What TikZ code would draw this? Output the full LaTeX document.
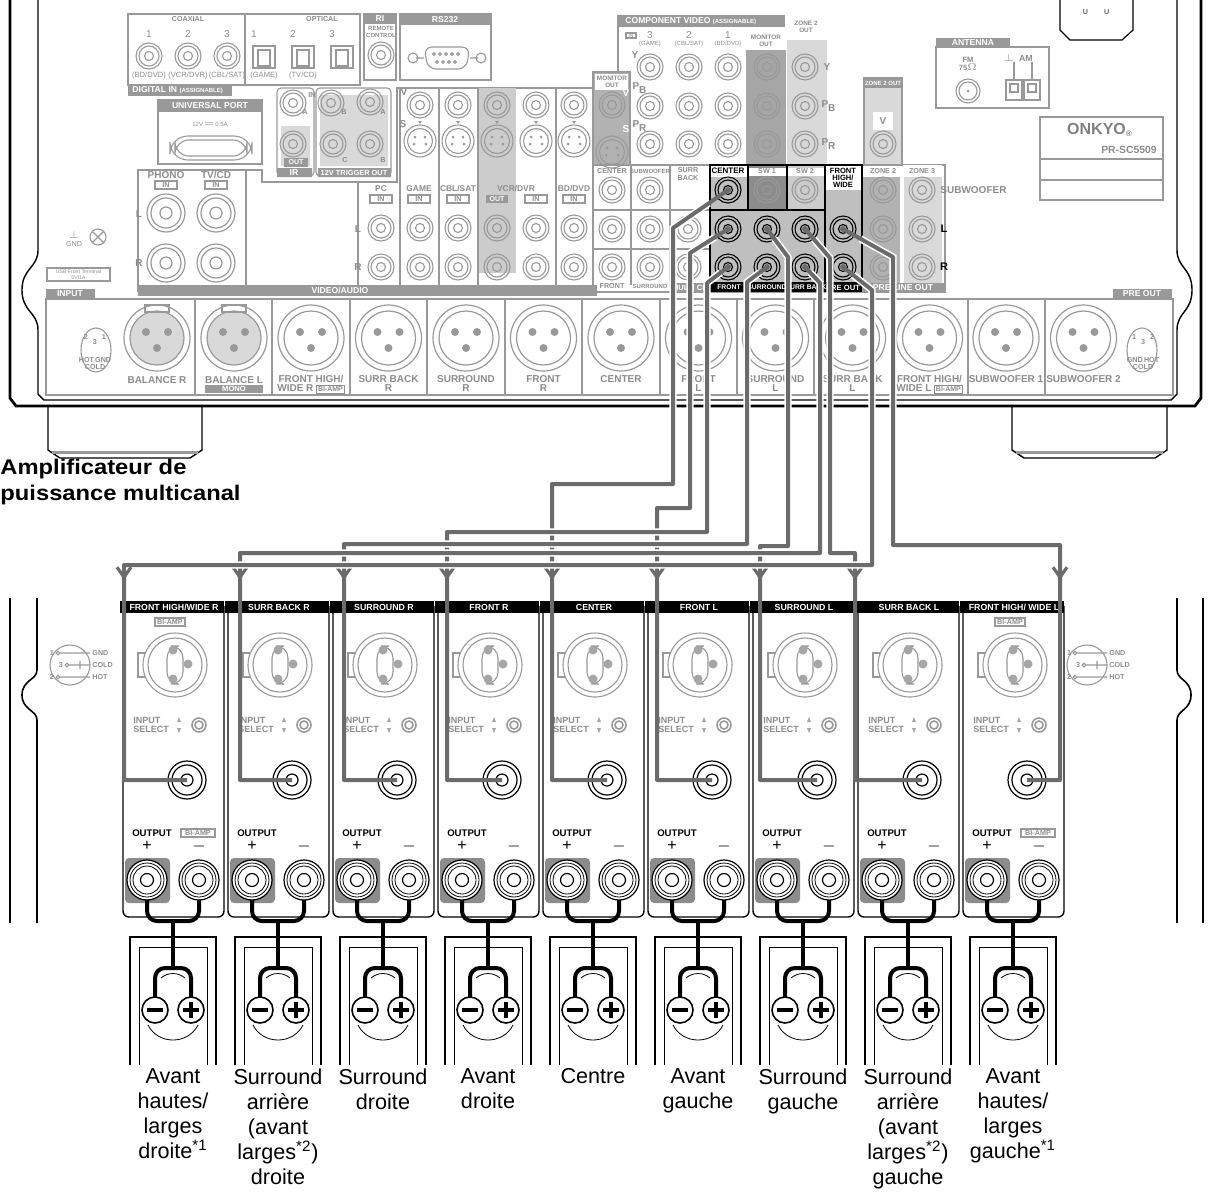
\documentclass[tikz,border=0pt]{standalone}
\usepackage{fontspec}
\setmainfont{Liberation Sans}
\usetikzlibrary{arrows.meta,calc}
\setlength\fboxsep{0.6pt}
\setlength\fboxrule{0.3pt}
\newcommand\rcaJ[3][black!40]{\draw[#1,line width=0.55pt] (#2,#3) circle (13) (#2,#3) circle (10) (#2,#3) circle (4.5);}
\newcommand\bigJ[3][black!40]{\draw[#1,line width=0.6pt] (#2,#3) circle (19) (#2,#3) circle (15) (#2,#3) circle (6);}
\newcommand\svJ[2]{\draw[black!40,line width=0.55pt] (#1,#2) circle (16) (#1,#2) circle (12.5); \fill[black!40] (#1-5,#2-4) circle (1.5) (#1+5,#2-4) circle (1.5) (#1-6,#2+3) circle (1.5) (#1+6,#2+3) circle (1.5);}
\newcommand\xlrJ[3]{\draw[black!40,line width=0.6pt,fill=#3] (#1,#2) circle (27); \draw[black!40,line width=0.6pt] (#1,#2) circle (33); \fill[black!40] (#1-11,#2-6) circle (4) (#1+11,#2-6) circle (4) (#1,#2+10) circle (4);}
\begin{document}
\begin{tikzpicture}[x=0.5pt,y=-0.5pt,
  pl/.style={draw=black!40,line width=0.55pt},
  tt/.style={font=\fontsize{3.6}{4}\selectfont\bfseries,text=black!45,inner sep=0,align=center},
  tw/.style={font=\fontsize{4.3}{4.5}\selectfont\bfseries,text=white,inner sep=0},
  tl/.style={font=\fontsize{5}{5.2}\selectfont\bfseries,text=black!45,inner sep=0,align=center},
  tb/.style={font=\fontsize{4}{4.3}\selectfont\bfseries,text=black,inner sep=0,align=center},
  hdr/.style={font=\fontsize{4.4}{4.5}\selectfont\bfseries,text=white,inner sep=0},
  cable/.style={draw=black!58,line width=2pt},
  casing/.style={draw=white,line width=3.6pt},
  spk/.style={draw=black,line width=2pt,rounded corners=5},
  lbl/.style={font=\fontsize{10.8}{12.5}\selectfont,align=center,inner sep=0,anchor=north}]
\useasboundingbox (0,0) rectangle (1209,1201);

% ===== receiver body =====
\draw[line width=1.4pt] (10,0)--(10,398)--(16,406)--(1195,406)--(1201,398)--(1201,0);
\draw[line width=0.7pt] (38,0)--(38,250) .. controls (38,268) and (22,268) .. (22,290) .. controls (22,312) and (38,312) .. (38,330)--(38,394)--(44,400)--(1171,400)--(1177,394)--(1177,330) .. controls (1177,312) and (1192,312) .. (1192,290) .. controls (1192,268) and (1177,268) .. (1177,250)--(1177,0);
\draw[line width=0.7pt] (48,406)--(48,450)--(60,458)--(190,458)--(202,450)--(202,406);
\draw[line width=0.7pt] (1012,406)--(1012,450)--(1024,458)--(1155,458)--(1167,450)--(1167,406);
\draw[pl,line width=1.5pt] (52,452)--(198,452) (1016,452)--(1163,452);
% plug
\draw[line width=0.6pt] (1060,0)--(1060,30)--(1070,40)--(1122,40)--(1133,30)--(1133,0);
\node[tt,text=black!60] (plug) at (1096,12) {U\hspace{8pt}U};

% digital in
\draw[pl] (128,14) rectangle (360,85) (245,14)--(245,85);
\node[tt] (coax) at (188,19) {COAXIAL};
\node[tt] (opt) at (322,19) {OPTICAL};
\foreach \x/\n/\t in {149/1/{(BD/DVD)},188/2/{(VCR/DVR)},227/3/{(CBL/SAT)}}{
  \node[tt,font=\fontsize{5}{5}\selectfont] (cn\n) at (\x,34) {\n};
  \rcaJ{\x}{56}
  \node[tt,font=\fontsize{3.8}{4}\selectfont] (cl\n) at (\x,76) {\t};}
\foreach \x/\n/\t in {264/1/{(GAME)},303/2/{(TV/CD)},342/3/{}}{
  \node[tt,font=\fontsize{5}{5}\selectfont] (on\n) at (\x-10,34) {\n};
  \draw[pl] (\x-11,46) rectangle (\x+11,68) (\x-6,50) rectangle (\x+6,66);
  \node[tt,font=\fontsize{3.8}{4}\selectfont] (ol\n) at (\x,76) {\t};}
\fill[black!40] (128,85) rectangle (232,96);
\node[tw,anchor=west] (dig) at (132,90.5) {DIGITAL IN \fontsize{3}{3}\selectfont(ASSIGNABLE)};
% RI
\draw[pl] (364,14) rectangle (396,80); \fill[black!40] (364,14) rectangle (396,24);
\node[tw] (ri) at (380,19) {RI};
\node[tt,font=\fontsize{3}{3.2}\selectfont\bfseries] (rc) at (381,32) {REMOTE\\CONTROL};
\rcaJ{381}{55}
% RS232
\draw[pl] (400,14) rectangle (491,80); \fill[black!40] (400,14) rectangle (491,25);
\node[tw] (rs) at (445,19.5) {RS232};
\draw[pl,rounded corners=4] (424,47)--(470,47)--(466,69)--(428,69)--cycle;
\draw[pl] (413,58) circle (5) (481,58) circle (5) (416,58)--(424,58) (470,58)--(478,58);
\foreach \x in {434,440,446,452,458}{\draw[pl] (\x,54) circle (1.3);}
\foreach \x in {437,443,449,455}{\draw[pl] (\x,62) circle (1.3);}
% universal port
\draw[pl] (158,100) rectangle (262,164); \fill[black!40] (158,100) rectangle (262,112);
\node[tw] (up) at (210,106) {UNIVERSAL PORT};
\node[tt,font=\fontsize{3}{3}\selectfont] (v12) at (210,124) {12V\,$=$\,0.5A};
\draw[pl,rounded corners=9] (170,136) rectangle (252,160);
\draw[pl,rounded corners=7] (175,140) rectangle (247,156);
% IR / trigger
\draw[pl,rounded corners=2] (277,88) rectangle (314,176);
\draw[pl,rounded corners=2] (316,88) rectangle (391,176);
\fill[black!15] (281,126) rectangle (310,166) (320,95) rectangle (388,166);
\node[tt] (irin) at (312,95) {IN};
\rcaJ{293}{103} \rcaJ{331}{103} \rcaJ{370}{102} \rcaJ{293}{144} \rcaJ{333}{144} \rcaJ{370}{144}
\node[tt] (ia) at (305,112) {A}; \node[tt] (ib) at (344,112) {B}; \node[tt] (ta) at (383,112) {A};
\node[tt] (tc) at (345,160) {C}; \node[tt] (tb) at (383,160) {B};
\fill[black!40] (284,158) rectangle (308,167); \node[tw,font=\fontsize{3.5}{3.5}\selectfont\bfseries] (iro) at (296,162.5) {OUT};
\fill[black!40] (277,168) rectangle (312,177) (318,168) rectangle (391,177);
\node[tw] (irl) at (294,172.5) {IR}; \node[tw,font=\fontsize{3.7}{3.7}\selectfont\bfseries] (trl) at (354,172.5) {12V TRIGGER OUT};
% video/audio area
\draw[pl] (138,292)--(138,170)--(262,170)--(262,182)--(397,182)--(397,88)--(597,88);
\draw[pl] (246,170)--(246,285) (358,182)--(358,285) (400,88)--(400,285) (439,88)--(439,285) (478,88)--(478,285) (556,88)--(556,285);
\fill[black!20] (479,88) rectangle (516,273);
\node[tl] (vv) at (404,92) {V}; \node[tl] (ss) at (403,124) {S};
\foreach \x in {420,458,497,536,574}{\rcaJ{\x}{105} \svJ{\x}{141} \fill[black!40] (\x-2,121)--(\x+2,121)--(\x,124)--cycle;}
\foreach \x/\t in {381/PC,419/GAME,458/{CBL/SAT},574/{BD/DVD}}{\node[tl,font=\fontsize{4.2}{4.4}\selectfont\bfseries] (va\x) at (\x,189) {\t};}
\node[tl,font=\fontsize{4.2}{4.4}\selectfont\bfseries] (vcr) at (516,189) {VCR/DVR};
\foreach \x in {381,419,458,536,574}{\draw[pl] (\x-11,195) rectangle (\x+11,203); \node[tt] (in\x) at (\x,199) {IN};}
\fill[black!40] (486,195) rectangle (508,203); \node[tw,font=\fontsize{3.5}{3.5}\selectfont\bfseries] (vout) at (497,199) {OUT};
\foreach \x in {381,420,458,497,536,574}{\rcaJ{\x}{228} \rcaJ{\x}{267}}
\node[tl] (ll) at (358,229) {L}; \node[tl] (rr) at (358,267) {R};
\node[tl] (phono) at (166,175) {PHONO}; \node[tl] (tvcd) at (216,175) {TV/CD};
\foreach \x in {166,216}{\draw[pl] (\x-11,181) rectangle (\x+11,189); \node[tt] (pin\x) at (\x,185) {IN}; \bigJ{\x}{213} \bigJ{\x}{263}}
\node[tl] (pl1) at (139,214) {L}; \node[tl] (pr1) at (139,263) {R};
\fill[black!40] (138,285) rectangle (597,296);
\node[tw] (va) at (340,290.5) {VIDEO/AUDIO};
% ground, usb
\draw[pl] (98,237) circle (8) (93,232)--(103,242) (93,242)--(103,232);
\node[tt,font=\fontsize{3.6}{4}\selectfont] (gnd) at (74,239) {$\perp$\\GND};
\draw[pl] (47,268) rectangle (110,281);
\node[tt,font=\fontsize{2.6}{3}\selectfont] (usb) at (78.5,274.5) {USB Front Terminal\\5V/1A};

% component video
\draw[pl] (618,15)--(618,165) (593,165)--(945,165);
\fill[black!40] (618,15) rectangle (785,27);
\node[tw,anchor=west] (cv) at (625,21) {COMPONENT VIDEO \fontsize{3}{3}\selectfont(ASSIGNABLE)};
\fill[black!35] (746,33) rectangle (786,165);
\fill[white] (746,33) rectangle (786,50);
\fill[black!15] (787,15) rectangle (827,165);
\fill[white] (787,15) rectangle (827,40);
\node[tt,font=\fontsize{3.2}{3.4}\selectfont\bfseries] (mo) at (766,41) {MONITOR\\OUT};
\node[tt,font=\fontsize{3.2}{3.4}\selectfont\bfseries] (z2o) at (806,27) {ZONE 2\\OUT};
\draw[pl] (626,33) rectangle (636,38); \node[tt,font=\fontsize{2.5}{3}\selectfont] (cin) at (631,35.5) {IN};
\foreach \x/\n/\t in {650/3/{(GAME)},689/2/{(CBL/SAT)},728/1/{(BD/DVD)}}{
 \node[tt,font=\fontsize{5}{5}\selectfont] (cvn\n) at (\x,35) {\n};
 \node[tt,font=\fontsize{3}{3}\selectfont] (cvl\n) at (\x,44) {\t};}
\foreach \x in {650,689,728,767,805}{\rcaJ{\x}{67}\rcaJ{\x}{106}\rcaJ{\x}{144}}
\node[tl] (y1) at (635,55) {Y}; \node[tl] (pb1) at (640,88) {P\textsubscript{B}}; \node[tl] (pr1b) at (640,126) {P\textsubscript{R}};
\node[tl] (y2) at (827,67) {Y}; \node[tl] (pb2) at (829,106) {P\textsubscript{B}}; \node[tl] (pr2) at (829,144) {P\textsubscript{R}};
% monitor out
\fill[black!30] (593,72) rectangle (630,165); \draw[pl] (593,72) rectangle (630,165);
\fill[white] (595,74) rectangle (628,90);
\node[tt,font=\fontsize{3.2}{3.4}\selectfont\bfseries] (mo2) at (612,82) {MONITOR\\OUT};
\rcaJ{612}{105} \svJ{612}{152}
\node[tl,text=white] (mv) at (626,93) {V}; \node[tl,text=white] (ms) at (626,129) {S};
% multichannel
\draw[pl] (593,165) rectangle (945,292) (631,165)--(631,285) (670,165)--(670,285) (593,210)--(710,210) (593,249)--(710,249);
\fill[black!30] (862,165) rectangle (900,285); \fill[black!15] (904,165) rectangle (942,285);
\fill[white] (862,165) rectangle (942,177);
\node[tt] (mcc) at (612,171) {CENTER}; \node[tt,font=\fontsize{3}{3}\selectfont\bfseries] (mcs) at (650,171) {SUBWOOFER}; \node[tt] (mcb) at (688,174) {SURR\\BACK};
\foreach \x in {612,650}{\rcaJ{\x}{190}\rcaJ{\x}{229}\rcaJ{\x}{267}}
\rcaJ{688}{229}\rcaJ{688}{267}
\node[tt] (z2) at (883,171) {ZONE 2}; \node[tt] (z3) at (922,171) {ZONE 3};
\foreach \x in {883,922}{\rcaJ{\x}{190}\rcaJ{\x}{229}\rcaJ{\x}{267}}
\node[tl,anchor=west,font=\fontsize{5}{5}\selectfont\bfseries] (subw) at (940,190) {SUBWOOFER};
\node[tb,font=\fontsize{5.5}{5.5}\selectfont\bfseries] (lL) at (944,229) {L};
\node[tb,font=\fontsize{5.5}{5.5}\selectfont\bfseries] (lR) at (944,267) {R};
% pre out block
\fill[black!25] (710,177) rectangle (748,210); \fill[black!45] (748,165) rectangle (787,210); \fill[black!20] (787,165) rectangle (825,210);
\fill[black!25] (710,210) rectangle (825,283) (825,190) rectangle (862,283);
\fill[white] (825,165) rectangle (862,190);
\fill[white] (748,168) rectangle (787,176); \fill[white] (787,168) rectangle (825,176);
\draw[line width=0.8pt] (710,165) rectangle (862,283) (710,210)--(825,210) (748,165)--(748,210) (787,165)--(787,210) (825,165)--(825,283);
\node[tb] (pc) at (728,171) {CENTER}; \node[tt] (sw1) at (767,171) {SW 1}; \node[tt] (sw2) at (805,171) {SW 2};
\node[tb,font=\fontsize{3.8}{3.6}\selectfont\bfseries] (pw) at (843,178) {FRONT\\HIGH/\\WIDE};
\rcaJ[black,line width=0.8pt]{728}{190} \rcaJ{767}{190} \rcaJ{805}{190}
\foreach \x in {728,767,805,843}{\rcaJ[black,line width=0.8pt]{\x}{229} \rcaJ[black,line width=0.8pt]{\x}{267}}
\fill[black] (710,283) rectangle (862,292);
\fill[black!40] (670,283) rectangle (710,292) (862,283) rectangle (945,292);
\node[tw,font=\fontsize{3.4}{3.4}\selectfont\bfseries] (bfr) at (729,287.5) {FRONT};
\node[tw,font=\fontsize{3.4}{3.4}\selectfont\bfseries] (bsu) at (767,287.5) {SURROUND};
\node[tw,font=\fontsize{3.4}{3.4}\selectfont\bfseries] (bsb) at (806,287.5) {SURR BACK};
\node[tw,font=\fontsize{3.8}{3.8}\selectfont\bfseries] (bpo) at (843,287.5) {PRE OUT};
\node[tw,font=\fontsize{3.8}{3.8}\selectfont\bfseries] (bmc) at (690,287.5) {MULTI CH};
\node[tw] (bpl) at (903,287.5) {PRE LINE OUT};
\node[tt] (mcf2) at (612,286) {FRONT}; \node[tt,font=\fontsize{3}{3}\selectfont\bfseries] (mcsu2) at (650,286) {SURROUND};
% zone 2 out V
\fill[black!15] (864,78) rectangle (902,165); \draw[pl] (864,78) rectangle (902,165);
\fill[black!40] (864,78) rectangle (902,88); \node[tw,font=\fontsize{3}{3}\selectfont\bfseries] (z2ov) at (883,83) {ZONE 2 OUT};
\fill[white] (873,112) rectangle (893,130); \node[tl] (zv) at (883,121) {V};
\rcaJ{883}{144}
% antenna
\draw[pl] (936,47) rectangle (1049,108); \fill[black!40] (936,38) rectangle (1010,47);
\node[tw] (ant) at (973,42.5) {ANTENNA};
\node[tt,font=\fontsize{3.8}{4}\selectfont\bfseries] (fm) at (968,64) {FM\\75$\Omega$};
\draw[pl] (968,91) circle (12) (968,91) circle (9); \fill[black!40] (968,91) circle (1.5);
\node[tt,font=\fontsize{4.4}{4.4}\selectfont\bfseries] (am) at (1018,58) {$\perp$\ \ AM};
\draw[pl] (1006,80) rectangle (1022,100) (1024,80) rectangle (1040,100) (1010,84) rectangle (1018,92) (1028,84) rectangle (1036,92) (1014,62)--(1014,80) (1032,62)--(1032,80);
% onkyo
\draw[pl,line width=0.8pt] (1040,117) rectangle (1163,200) (1040,159)--(1163,159) (1040,180)--(1163,180);
\node[font=\fontsize{8}{8}\selectfont\bfseries\rmfamily,text=black!50,inner sep=0] (onk) at (1100,130) {ONKYO\textsubscript{\fontsize{4}{4}\selectfont\textregistered}};
\node[tl,font=\fontsize{5.2}{5.2}\selectfont\bfseries] (model) at (1129,150) {PR-SC5509};

% XLR row
\draw[pl] (46,299) rectangle (1173,395);
\foreach \x in {195,272,350,427,505,582,660,737,814,891,968,1045}{\draw[pl] (\x,299)--(\x,395);}
\fill[black!40] (46,289) rectangle (95,299); \node[tw] (inp) at (70,294) {INPUT};
\fill[black!40] (1113,289) rectangle (1172,299); \node[tw] (pot) at (1142,294) {PRE OUT};
\xlrJ{157}{338}{black!15} \xlrJ{234}{338}{black!15}
\draw[pl] (145,305) rectangle (169,312) (222,305) rectangle (246,312);
\foreach \x/\t in {311/{FRONT HIGH/\\WIDE R \fbox{\fontsize{3.5}{3.5}\selectfont BI-AMP}},388.5/{SURR BACK\\R},466/{SURROUND\\R},543.5/{FRONT\\R},621/{CENTER\\\ },698.5/{FRONT\\L},775.5/{SURROUND\\L},852.5/{SURR BACK\\L},929.5/{FRONT HIGH/\\WIDE L \fbox{\fontsize{3.5}{3.5}\selectfont BI-AMP}},1006/{SUBWOOFER 1\\\ },1083.5/{SUBWOOFER 2\\\ }}{
  \xlrJ{\x}{338}{white}
  \node[tl,font=\fontsize{5}{4.6}\selectfont\bfseries,anchor=north] (x\x) at (\x,375) {\t};}
\node[tl,font=\fontsize{5}{4.6}\selectfont\bfseries,anchor=north] (balr) at (157,376) {BALANCE R};
\node[tl,font=\fontsize{5}{4.6}\selectfont\bfseries,anchor=north] (ball) at (234,376) {BALANCE L};
\fill[black!40] (205,385) rectangle (263,393); \node[tw,font=\fontsize{3.8}{3.8}\selectfont\bfseries] (mono) at (234,389) {MONO};
\draw[pl] (96,350) ellipse (15 and 22);
\node[tt,font=\fontsize{3.6}{3.8}\selectfont\bfseries] (pinL) at (95,352) {2\hspace{7pt}1\\[-1pt]3\\[5pt]HOT\,GND\\COLD};
\draw[pl] (1142,350) ellipse (15 and 22);
\node[tt,font=\fontsize{3.6}{3.8}\selectfont\bfseries] (pinR) at (1143,352) {1\hspace{7pt}2\\[-1pt]3\\[5pt]GND\,HOT\\COLD};

% ===== amplifier =====
\node[font=\fontsize{10.6}{13}\selectfont\bfseries,align=left,anchor=north west,inner sep=0,xscale=1.12,transform shape] (title) at (0,459) {Amplificateur de\\puissance multicanal};
\draw[line width=0.8pt] (10,598)--(10,923);
\draw[line width=0.8pt] (37,598)--(37,670) .. controls (37,680) and (22,680) .. (22,695) .. controls (22,710) and (37,710) .. (37,720)--(37,923);
\draw[line width=0.8pt] (1203,598)--(1203,923);
\draw[line width=0.8pt] (1177,598)--(1177,670) .. controls (1177,680) and (1191,680) .. (1191,695) .. controls (1191,710) and (1177,710) .. (1177,720)--(1177,923);
\foreach \cx in {70,1087}{
 \draw[pl] (\cx,665) circle (20);
 \draw[pl] (\cx-12,653) circle (1.8) (\cx-10,653)--(\cx+20,653);
 \draw[pl] (\cx-3,665) circle (1.8) (\cx-1,665)--(\cx+20,665) (\cx+10,661)--(\cx+10,669);
 \draw[pl] (\cx-12,677) circle (1.8) (\cx-10,677)--(\cx+20,677);
 \node[tt,font=\fontsize{3.6}{3.6}\selectfont\bfseries,anchor=west] (g\cx) at (\cx+22,653) {GND};
 \node[tt,font=\fontsize{3.6}{3.6}\selectfont\bfseries,anchor=west] (c\cx) at (\cx+22,665) {COLD};
 \node[tt,font=\fontsize{3.6}{3.6}\selectfont\bfseries,anchor=west] (h\cx) at (\cx+22,677) {HOT};
 \node[tt,font=\fontsize{3.6}{3.6}\selectfont\bfseries] (n1\cx) at (\cx-18,653) {1};
 \node[tt,font=\fontsize{3.6}{3.6}\selectfont\bfseries] (n3\cx) at (\cx-9,665) {3};
 \node[tt,font=\fontsize{3.6}{3.6}\selectfont\bfseries] (n2\cx) at (\cx-18,677) {2};}

\foreach \k/\nm in {0/{FRONT HIGH/WIDE R},1/{SURR BACK R},2/{SURROUND R},3/{FRONT R},4/{CENTER},5/{FRONT L},6/{SURROUND L},7/{SURR BACK L},8/{FRONT HIGH/ WIDE L}}{
 \pgfmathsetmacro\L{123+105*\k}
 \draw[line width=0.7pt,rounded corners=3] (\L,606)--(\L,917)--(\L+101,917)--(\L+101,606);
 \fill[black] (\L-3,601) rectangle (\L+101,613);
 \node[hdr] (h\k) at (\L+51,607.5) {\nm};
 \draw[pl] (\L+15,653) rectangle (\L+29,677);
 \draw[pl,fill=white] (\L+52,665) circle (32) (\L+52,665) circle (27);
 \draw[pl,rounded corners=6] (\L+44,646) rectangle (\L+60,684);
 \fill[black!35] (\L+50,650) circle (4.5) (\L+65,664) circle (4.5) (\L+50,679) circle (4.5);
 \node[tt,font=\fontsize{4.5}{4.5}\selectfont\bfseries,align=left] (is\k) at (\L+28,725) {INPUT\\SELECT};
 \fill[black!35] (\L+56,717)--(\L+58,722)--(\L+54,722)--cycle (\L+56,733)--(\L+58,728)--(\L+54,728)--cycle;
 \draw[pl,line width=0.8pt] (\L+76,725) circle (7) (\L+76,725) circle (4);
 \draw[line width=0.6pt] (\L+64,780) circle (19) (\L+64,780) circle (15) (\L+64,780) circle (6);
 \coordinate (in\k) at (\L+64,780);
 \node[tb,font=\fontsize{4.8}{4.8}\selectfont\bfseries] (op\k) at (\L+29,833) {OUTPUT};
 \node[font=\fontsize{8}{8}\selectfont,inner sep=0] (pl\k) at (\L+24,846) {+};
 \node[font=\fontsize{8}{8}\selectfont,inner sep=0] (mi\k) at (\L+76,846) {$-$};
 \fill[black!45,rounded corners=2] (\L+2,858) rectangle (\L+47,903);
 \foreach \tx in {24,76}{
  \draw[fill=white,line width=0.6pt] (\L+\tx,880) circle (20);
  \draw[line width=0.4pt] (\L+\tx,880) circle (17) (\L+\tx,880) circle (14);
  \draw[line width=0.6pt] (\L+\tx,880) circle (6.5);}
 \draw[spk] (\L+24,900)--(\L+24,921)--(\L+76,921)--(\L+76,900);
 \draw[spk] (\L+50,921)--(\L+50,968);
 \draw[spk] (\L+32,998)--(\L+32,968)--(\L+68,968)--(\L+68,998);
 \draw[line width=1.3pt] (\L+7,1065)--(\L+7,937)--(\L+93,937)--(\L+93,1065);
 \draw[line width=0.5pt] (\L+16,1065)--(\L+16,947)--(\L+84,947)--(\L+84,1065);
 \draw[line width=0.4pt] (\L+38,978) .. controls (\L+45,972) and (\L+55,972) .. (\L+62,978);
 \draw[line width=0.4pt] (\L+25,1025) .. controls (\L+35,1045) and (\L+65,1045) .. (\L+75,1025);
 \draw[line width=0.8pt,fill=white] (\L+32,1010) circle (13) (\L+68,1010) circle (13);
 \draw[line width=1.8pt] (\L+24,1010)--(\L+40,1010) (\L+60,1010)--(\L+76,1010) (\L+68,1002)--(\L+68,1018);
}
\foreach \L in {123,963}{
 \draw[pl] (\L+32,618) rectangle (\L+62,626); \node[tt] (ba\L) at (\L+47,622) {BI-AMP};
 \draw[pl] (\L+58,829) rectangle (\L+92,837); \node[tt] (bb\L) at (\L+75,833) {BI-AMP};}

% ===== cables =====
\coordinate (pC) at (728,190); \coordinate (pFL) at (728,229); \coordinate (pFR) at (728,267);
\coordinate (pSL) at (767,229); \coordinate (pSR) at (767,267);
\coordinate (pBL) at (805,229); \coordinate (pBR) at (805,267);
\coordinate (pWL) at (843,229); \coordinate (pWR) at (843,267);
\foreach \s/\dx/\dy/\yh/\ax/\m in {pC/673/228/484/552/4, pFL/690/253/508/657/5, pFR/707/283/532/447/3, pSR/747/282/544/344/2, pWL/893/257/545/1060/8, pSL/788/257/546/760/6, pBR/820/283/553/240/1, pBL/830/258/553/855/7, pWR/872/290/565/124/0}{
 \draw[casing] ($(\s)!0.35!(\dx,\dy)$)--(\dx,\dy)--(\dx,\yh)--(\ax,\yh)--(\ax,560);
 \draw[cable,line join=round] (\s)--(\dx,\dy)--(\dx,\yh)--(\ax,\yh)--(\ax,780)--(in\m);
 \draw[cable,-{Straight Barb[length=5pt,width=7pt,line width=1.6pt]}] (\ax,566)--(\ax,580);
 \fill[black!58] (\s) circle (3);
}

% ===== labels =====
\node[lbl] (s0) at (173,1068) {Avant\\hautes/\\larges\\droite\textsuperscript{*1}};
\node[lbl] (s1) at (278,1068) {Surround\\arrière\\(avant\\larges\textsuperscript{*2})\\droite};
\node[lbl] (s2) at (383,1068) {Surround\\droite};
\node[lbl] (s3) at (488,1068) {Avant\\droite};
\node[lbl] (s4) at (593,1068) {Centre};
\node[lbl] (s5) at (698,1068) {Avant\\gauche};
\node[lbl] (s6) at (803,1068) {Surround\\gauche};
\node[lbl] (s7) at (908,1068) {Surround\\arrière\\(avant\\larges\textsuperscript{*2})\\gauche};
\node[lbl] (s8) at (1013,1068) {Avant\\hautes/\\larges\\gauche\textsuperscript{*1}};
\end{tikzpicture}
\end{document}
